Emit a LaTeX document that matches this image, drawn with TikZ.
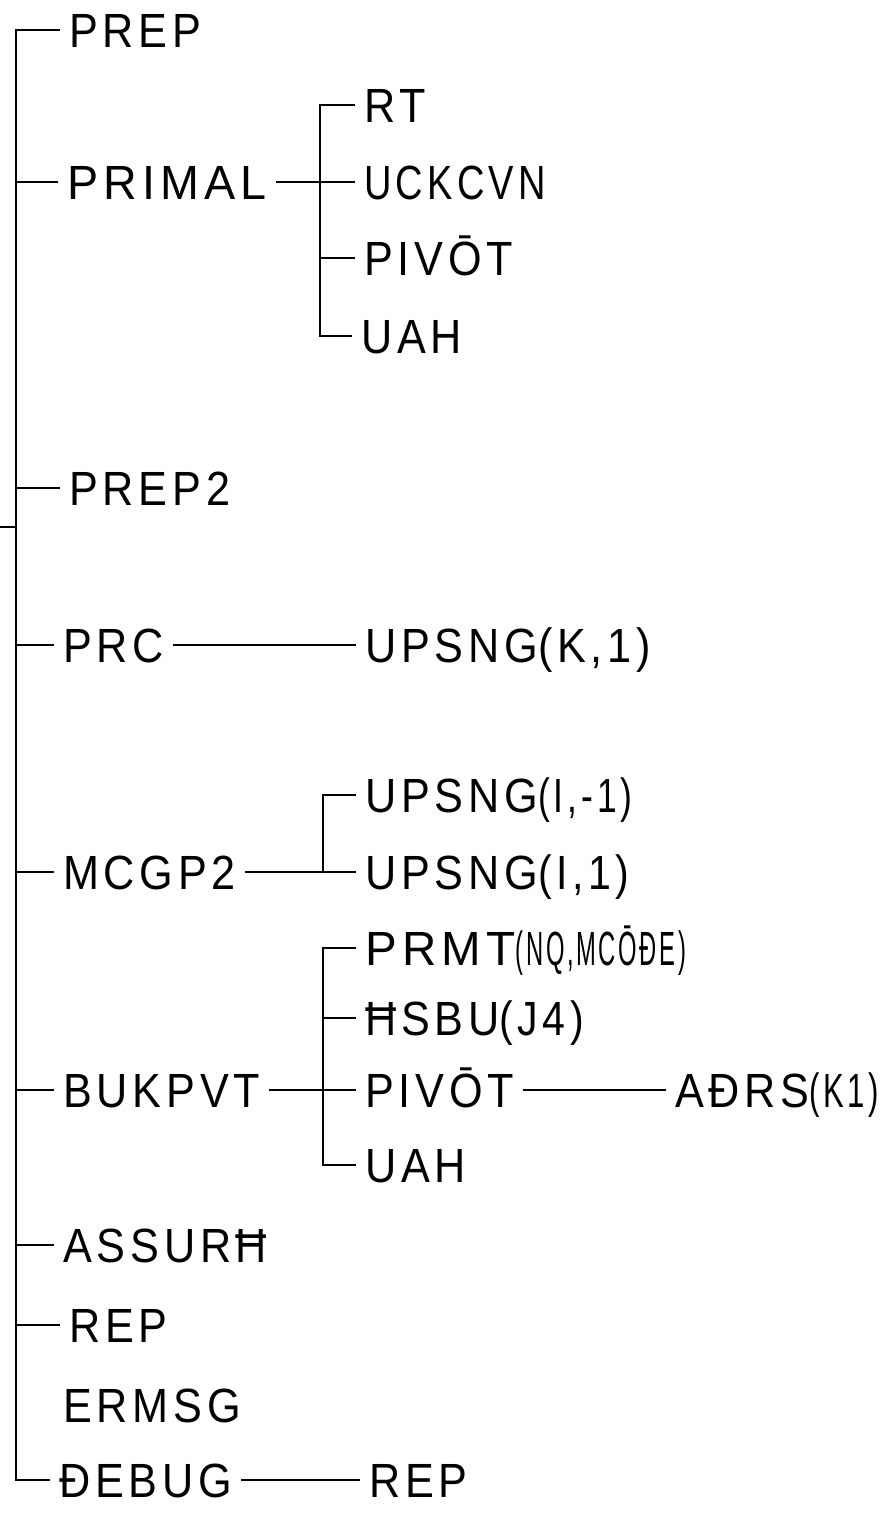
\documentclass[tikz,border=0pt]{standalone}
\usepackage{graphicx}
\usepackage{fontspec}
\setmainfont{Liberation Sans}[LetterSpace=10,FakeStretch=0.9]
\newcommand\hsq[2]{\scalebox{#1}[1]{#2}}
\begin{document}
\begin{tikzpicture}[x=1pt,y=-1pt,
  lbl/.style={anchor=west,inner xsep=9pt,inner ysep=0pt,text height=34pt,text depth=0pt,font=\fontsize{48}{52}\selectfont},
  ln/.style={line width=1.3pt,black}]
\path[use as bounding box,fill=white] (0,0) rectangle (890,1515);
% level 1 labels
\node[lbl] (prep)   at (60,30)   {PREP};
\node[lbl] (primal) at (58,182)  {\hsq{1.08}{PRIMAL}};
\node[lbl] (prep2)  at (60,488)  {PREP2};
\node[lbl] (prc)    at (54,645)  {PRC};
\node[lbl] (mcgp)   at (54,872)  {MCGP2};
\node[lbl] (blk)    at (54,1090) {BUKPVT};
\node[lbl] (assur)  at (54,1245) {ASSURĦ};
\node[lbl] (rep)    at (60,1325) {REP};
\node[lbl] (ermsg)  at (54,1405) {ERMSG};
\node[lbl] (debug)  at (50,1480) {ĐEBUG};
% level 2 labels
\node[lbl] (rt)     at (355,105)  {RT};
\node[lbl] (uck)    at (355,182)  {\hsq{0.88}{UCKCVN}};
\node[lbl] (piv1)   at (355,258)  {PIVŌT};
\node[lbl] (uah1)   at (352,336)  {UAH};
\node[lbl] (upk)    at (356,645)  {UPSNG\hsq{1.0}{(K,1)}};
\node[lbl] (upm)    at (356,795)  {UPSNG\hsq{0.82}{(I,-1)}};
\node[lbl] (upp)    at (356,872)  {UPSNG\hsq{0.95}{(I,1)}};
\node[lbl] (prmt)   at (356,948)  {\hsq{1.1}{PRMT}\hsq{0.55}{(NQ,MCŌĐE)}};
\node[lbl] (hsbu)   at (356,1018) {ĦSBU\hsq{0.95}{(J4)}};
\node[lbl] (piv2)   at (356,1090) {PIVŌT};
\node[lbl] (uah2)   at (356,1165) {UAH};
\node[lbl] (rep2)   at (360,1480) {REP};
% level 3
\node[lbl] (adrs)   at (666,1090) {AĐRS\hsq{0.72}{(K1)}};
% trunk
\coordinate (root)  at (0,527);
\coordinate (rootj) at (16,527);
\coordinate (tbot)  at (16,1480);
\coordinate (t1) at (16,182);
\coordinate (t2) at (16,488);
\coordinate (t3) at (16,645);
\coordinate (t4) at (16,872);
\coordinate (t5) at (16,1090);
\coordinate (t6) at (16,1245);
\coordinate (t7) at (16,1325);
\draw[ln] (prep) -| (tbot) -- (debug);
\draw[ln] (root) -- (rootj);
\draw[ln] (t1) -- (primal);
\draw[ln] (t2) -- (prep2);
\draw[ln] (t3) -- (prc);
\draw[ln] (t4) -- (mcgp);
\draw[ln] (t5) -- (blk);
\draw[ln] (t6) -- (assur);
\draw[ln] (t7) -- (rep);
% PRIMAL subtree
\coordinate (j1b) at (320,336);
\coordinate (j1p) at (320,258);
\draw[ln] (rt) -| (j1b) -- (uah1);
\draw[ln] (primal) -- (uck);
\draw[ln] (j1p) -- (piv1);
% PRC
\draw[ln] (prc) -- (upk);
% MCGP2 subtree
\coordinate (j2b) at (323,872);
\draw[ln] (upm) -| (j2b);
\draw[ln] (mcgp) -- (upp);
% BUKPVT subtree
\coordinate (j3b) at (323,1165);
\coordinate (j3h) at (323,1018);
\draw[ln] (prmt) -| (j3b) -- (uah2);
\draw[ln] (j3h) -- (hsbu);
\draw[ln] (blk) -- (piv2);
\draw[ln] (piv2) -- (adrs);
% DEBUG
\draw[ln] (debug) -- (rep2);
\end{tikzpicture}
\end{document}
